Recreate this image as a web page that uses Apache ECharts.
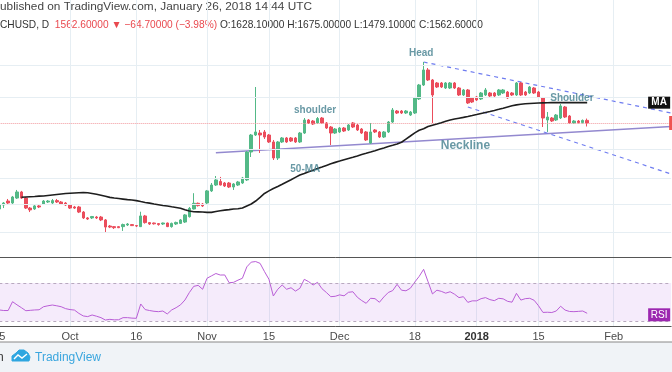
<!DOCTYPE html>
<html><head><meta charset="utf-8">
<script src="https://cdn.jsdelivr.net/npm/echarts@6/dist/echarts.min.js"></script>
<style>html,body{margin:0;padding:0;background:#fff;}#c{width:672px;height:372px;}</style>
</head><body><div id="c"></div>
<script>
// ---- data (BCHUSD daily) ----
const startDate = Date.UTC(2017, 8, 15);
const categoryCount = 153;
const opens = [
405,431,459,445,481,529,481,411,405,425,
438,452,445,462,452,445,431,418,418,386,
352,352,357,357,341,310,307,307,307,315,
317,312,307,363,327,325,322,320,325,307,
320,323,330,359,405,443,438,445,538,590,
624,609,609,572,590,609,639,991,1294,1335,
1357,1294,1160,902,1160,1235,1235,1235,1160,1335,
1638,1612,1563,1690,1563,1467,1335,1357,1444,1400,
1563,1514,1422,1357,1142,1400,1357,1254,1357,1587,
1886,1886,1828,1771,1828,2278,2838,3592,3070,2928,
2928,2707,2707,2928,2707,2426,2624,2314,2351,2278,
2426,2503,2503,2426,2503,2542,2503,2426,2928,2542,
2503,2707,2542,2314,1638,1690,1638,1690,2009,1744,
1563,1612,1575,1628.1];
const closes = [
431,445,445,489,529,481,411,399,425,418,
459,459,462,452,438,431,411,411,386,352,
346,360,352,341,305,305,302,302,317,320,
312,310,363,327,320,321,317,325,307,323,
328,341,369,409,443,427,425,538,590,639,
590,581,572,600,619,659,991,1294,1357,1294,
1254,1160,902,1160,1235,1160,1178,1160,1335,1638,
1563,1538,1677,1563,1444,1335,1422,1444,1378,1514,
1467,1400,1335,1197,1357,1357,1254,1357,1587,1916,
1828,1828,1886,1857,2314,2838,3592,3070,2426,2750,
2750,2928,2928,2707,2426,2624,2139,2173,2242,2503,
2624,2388,2388,2624,2624,2314,2426,2928,2426,2426,
2750,2503,2351,1690,1716,1612,1771,2041,1716,1563,
1612,1575,1627,1562.6];
const lows = [
380,411,431,431,474,474,405,386,399,411,
431,445,438,445,431,425,405,405,380,346,
341,346,346,335,278,300,296,300,287,310,
310,305,305,322,315,317,312,315,305,302,
315,320,325,354,402,421,418,438,529,581,
586,572,563,546,581,600,629,916,1274,976,
1216,1142,874,874,1142,1142,1160,1142,1142,1315,
1538,1514,1538,1538,1422,1106,1315,1335,1357,1378,
1444,1378,1315,1178,1124,1335,1235,1235,1335,1563,
1799,1799,1799,1744,1799,2242,2794,3022,1563,2707,
2707,2665,2665,2665,2388,2388,2106,2139,2208,2242,
2388,2351,2351,2388,2464,2278,2388,2388,2388,2388,
2464,2464,2314,1467,1357,1587,1612,1663,1690,1538,
1538,1550,1550,1479.1];
const highs = [
452,452,474,497,546,538,489,418,431,431,
466,466,474,474,459,452,438,425,425,392,
357,363,363,363,346,315,310,310,322,325,
320,315,388,369,330,327,325,327,327,327,
332,346,374,418,519,448,445,546,609,680,
670,619,619,609,629,670,1007,1315,2750,1400,
1400,1315,1197,1178,1254,1254,1254,1254,1357,1690,
1663,1638,1716,1716,1587,1490,1444,1467,1467,1538,
1587,1538,1444,1378,1563,1422,1378,1378,1612,1977,
1916,1916,1916,1886,2351,2883,4071,3705,3118,2974,
2974,2974,2974,2974,2750,2665,2665,2351,2388,2542,
2707,2542,2542,2665,2665,2583,2542,2974,2974,2583,
2794,2750,2583,2351,1857,1716,1799,2106,2041,1771,
1638,1638,1651,1675];
const ma50 = [
null,null,null,null,null,487,489,491,493,496,
497,501,505,509,513,517,519,521,523,524,
523,517,511,503,495,486,481,477,473,469,
466,462,455,449,444,438,433,428,424,419,
415,410,400,392,388,387,386,384,384,389,
394,398,401,405,407,411,425,438,459,486,
517,538,559,577,597,619,641,665,690,707,
726,745,764,783,803,823,842,859,877,895,
913,932,952,971,991,1012,1034,1055,1079,1101,
1124,1155,1213,1274,1339,1393,1428,1477,1509,1538,
1570,1605,1638,1663,1685,1706,1731,1757,1785,1814,
1843,1872,1904,1937,1972,2009,2047,2077,2096,2113,
2123,2133,2139,2143,2146,2150,2150,2150,2150,2150,
2150,2150,2150,2150];
const rsi = [
41.6,41,41,50.3,47,44,40.8,41.2,41.6,41.8,
45,46,46.8,46,45,43,42,41.5,38,35.3,
34.6,36.3,35,33.5,31,31.7,31.2,31.3,33.5,33.5,
33,32.8,47.9,42,41,40.2,39.8,40.5,37.4,41.6,
44,47,52.1,60,66.5,67.5,63.4,75,77.5,80,
78.4,78.5,70.3,70.7,73,75,87,92,92.6,90.7,
82,74,56.3,63.4,67.9,63.4,65,61.5,64.4,73.9,
71.4,67.9,70.7,64,60,55.6,56,57.5,56.5,60.2,
60.8,55,51.5,48.6,53.9,53.5,49.7,55.3,60,62,
68.6,62.4,61.8,64.5,71,77,84.4,71.4,58.5,62.4,
61.2,59.3,60.8,58.2,54.6,55.6,49.6,51.2,51.2,53.5,
54.6,52.5,51.4,53.9,53.3,50.7,49.8,59.1,52,53.5,
53.9,51.8,46,39,39.2,38.9,40.5,45.5,41.5,40,
39.8,40.1,40.5,38.1];
const tickDates = ['2017-09-15','2017-10-01','2017-10-16','2017-11-01','2017-11-15','2017-12-01','2017-12-18','2018-01-01','2018-01-15','2018-02-01'];
const tickLabels = ['15','Oct','16','Nov','15','Dec','18','2018','15','Feb'];
const priceGridLevels = [3886, 2351, 1039, 659, 438, 282];
const lastPrice = 1562.6;
const lastMA = 2150;
const lastRSI = 36.5;
const neckline = [['2017-11-03', 981], ['2018-02-14', 1478]];
const upperChannel = [['2017-12-20', 4071], ['2018-02-14', 1828]];
const lowerChannel = [['2017-12-30', 2009], ['2018-02-14', 702]];
const annotations = [
  ['2017-12-19', 4686, 'Head'],
  ['2017-11-25', 1916, 'shoulder'],
  ['2018-01-23', 2296, 'Shoulder'],
  ['2017-12-29', 1097, 'Neckline'],
  ['2017-11-23', 753, '50-MA']
];

// ---- build ----
const categories = [];
for (let i = 0; i < categoryCount; i++) {
  categories.push(new Date(startDate + i * 86400000).toISOString().slice(0, 10));
}
const lastCat = categories[categories.length - 1];
const candleData = opens.map((o, i) => [o, closes[i], lows[i], highs[i]]);
const tickSet = new Set(tickDates);
const tickFn = (idx, val) => tickSet.has(val);

const UP = '#53b987', DOWN = '#eb4d5c';
const ANN = '#44808f';
const annStyle = {
  'Head': {fontSize: 10, offset: [2, 0]},
  'shoulder': {fontSize: 10, offset: [2, 0]},
  'Shoulder': {fontSize: 10, offset: [-2, 0]},
  'Neckline': {fontSize: 12, offset: [2, 0]},
  '50-MA': {fontSize: 10, offset: [1, 0]}
};

function textWidth(str, font) {
  const c = document.createElement('canvas').getContext('2d');
  c.font = font; return c.measureText(str).width;
}
const hFont = '10.5px "Liberation Sans"';
const line1 = 'ublished on TradingView.com, January 26, 2018 14:44 UTC';
const l2a = 'CHUSD, D  ', l2b = '1562.60000 \u25BC \u221264.70000 (\u22123.98%)', l2c = ' O:1628.10000 H:1675.00000 L:1479.10000 C:1562.60000';
const w1 = textWidth(line1, hFont);
const w2 = textWidth(l2a + l2b + l2c, hFont);

const chart = echarts.init(document.getElementById('c'), null, {renderer: 'canvas'});
const xBase = {
  type: 'category', data: categories, boundaryGap: false,
  axisTick: {show: false}
};
chart.setOption({
  animation: false,
  backgroundColor: '#ffffff',
  grid: [
    {left: -0.7, right: 0.86, top: 0, height: 257, outerBoundsMode: 'none', containLabel: false},
    {left: -0.7, right: 0.86, top: 257, height: 69, outerBoundsMode: 'none', containLabel: false}
  ],
  xAxis: [
    Object.assign({}, xBase, {gridIndex: 0,
      axisLine: {show: true, lineStyle: {color: '#555', width: 1}},
      axisLabel: {show: false},
      splitLine: {show: true, interval: tickFn, lineStyle: {color: '#e6eef3', width: 1}}}),
    Object.assign({}, xBase, {gridIndex: 1,
      axisLine: {show: true, lineStyle: {color: '#555', width: 1}},
      axisLabel: {show: true, interval: tickFn,
        margin: 5, color: '#4a4a4a', fontSize: 11, fontFamily: 'Liberation Sans',
        formatter: v => { const k = tickDates.indexOf(v); if (k < 0) return ''; const t = tickLabels[k]; return t === '2018' ? '{b|2018}' : t; },
        rich: {b: {fontWeight: 'bold', fontSize: 11, color: '#333', fontFamily: 'Liberation Sans'}}},
      splitLine: {show: true, interval: tickFn, lineStyle: {color: '#e6eef3', width: 1}}})
  ],
  yAxis: [
    {type: 'log', gridIndex: 0, min: 190.6, max: 10777, axisLine: {show: false}, axisLabel: {show: false}, axisTick: {show: false}, splitLine: {show: false}},
    {type: 'value', gridIndex: 1, min: 24.7, max: 97.4, axisLine: {show: false}, axisLabel: {show: false}, axisTick: {show: false}, splitLine: {show: false}}
  ],
  series: [
    {
      type: 'line', xAxisIndex: 0, yAxisIndex: 0, data: [], silent: true,
      markLine: {silent: true, symbol: 'none', label: {show: false},
        lineStyle: {color: '#e6eef3', width: 1, type: 'solid'},
        data: priceGridLevels.map(v => ({yAxis: v}))}
    },
    {type: 'line', name: 'neck', data: neckline, showSymbol: false, silent: true,
      lineStyle: {color: '#9389cf', width: 1.5}, z: 3},
    {type: 'line', name: 'up', data: upperChannel, showSymbol: false, silent: true,
      lineStyle: {color: '#6e7cf0', width: 1.2, type: [4, 4]}, z: 3},
    {type: 'line', name: 'lo', data: lowerChannel, showSymbol: false, silent: true,
      lineStyle: {color: '#6e7cf0', width: 1.2, type: [4, 4]}, z: 3},
    {
      type: 'candlestick', xAxisIndex: 0, yAxisIndex: 0, data: candleData, barWidth: 3,
      itemStyle: {color: UP, color0: DOWN, borderColor: UP, borderColor0: DOWN, borderWidth: 1},
      z: 4,
      markLine: {silent: true, symbol: 'none', label: {show: false},
        lineStyle: {color: '#f29a9f', width: 1, type: [1, 1]},
        data: [{yAxis: lastPrice}]},
      markPoint: {silent: true, data: [{coord: [lastCat, lastPrice], symbol: 'rect', symbolSize: [4, 14], itemStyle: {color: '#ef5350'}, label: {show: false}}]}
    },
    {
      type: 'line', name: 'MA', data: ma50, showSymbol: false, silent: true, z: 5,
      lineStyle: {color: '#1e1e1e', width: 1.6},
      markPoint: {silent: true, data: [{coord: [lastCat, lastMA], symbol: 'rect', symbolSize: [22, 12], symbolOffset: [-12, 0],
        itemStyle: {color: '#111'}, label: {show: true, position: 'inside', formatter: 'MA', color: '#fff', fontSize: 10, fontWeight: 'bold', fontFamily: 'Liberation Sans'}}]}
    },
    {
      type: 'scatter', data: annotations.map(a => ({name: a[2], value: [a[0], a[1]],
        label: {fontSize: annStyle[a[2]].fontSize, offset: annStyle[a[2]].offset}})),
      symbolSize: 0.1, itemStyle: {color: 'rgba(0,0,0,0)'}, silent: true, z: 6,
      label: {show: true, position: 'inside', formatter: '{b}', color: ANN, fontWeight: 'bold', fontFamily: 'Liberation Sans'}
    },
    {
      type: 'line', xAxisIndex: 1, yAxisIndex: 1, data: rsi, showSymbol: false, silent: true,
      lineStyle: {color: '#b95ed6', width: 1}, z: 4,
      markArea: {silent: true, itemStyle: {color: 'rgba(170, 90, 225, 0.12)'}, data: [[{yAxis: 30}, {yAxis: 70}]]},
      markLine: {silent: true, symbol: 'none', label: {show: false}, lineStyle: {color: '#b8a9bf', width: 1, type: [3, 3]},
        data: [{yAxis: 30}, {yAxis: 70}]},
      markPoint: {silent: true, data: [{coord: [lastCat, lastRSI], symbol: 'rect', symbolSize: [22, 13], symbolOffset: [-12, 0],
        itemStyle: {color: '#9c27b0'}, label: {show: true, position: 'inside', formatter: 'RSI', color: '#fff', fontSize: 10, fontFamily: 'Liberation Sans'}}]}
    }
  ],
  graphic: [
    {type: 'text', x: 0, y: 7, scaleX: 312 / w1, originX: 0, silent: true,
      style: {text: line1, font: hFont, fill: '#444', verticalAlign: 'middle'}},
    {type: 'text', x: 0, y: 25, scaleX: 483 / w2, originX: 0, silent: true,
      style: {text: '{a|' + l2a + '}{b|' + l2b + '}{c|' + l2c + '}', font: hFont, verticalAlign: 'middle',
        rich: {a: {fill: '#333', font: hFont}, b: {fill: '#e9494f', font: hFont}, c: {fill: '#333', font: hFont}}}},
    {type: 'rect', shape: {x: 0, y: 342, width: 672, height: 30}, style: {fill: '#f0f3f7'}, silent: true},
    {type: 'line', shape: {x1: 0, y1: 342, x2: 672, y2: 342}, style: {stroke: '#888', lineWidth: 1}, silent: true},
    {type: 'text', x: -3, y: 358, silent: true, style: {text: 'n', font: '12px "Liberation Sans"', fill: '#333', verticalAlign: 'middle'}},
    {type: 'polyline', silent: true, shape: {points: [[12, 361], [12, 356], [16, 353], [19, 350], [24, 350], [28, 353], [30, 357], [29, 361], [12, 361]]},
      style: {fill: '#2fa6e0', stroke: '#2fa6e0', lineWidth: 1}},
    {type: 'polyline', silent: true, shape: {points: [[14, 359], [18, 355], [22, 358], [27, 354]]},
      style: {fill: 'none', stroke: '#ffffff', lineWidth: 1.4}},
    {type: 'text', x: 35, y: 358, silent: true, style: {text: 'TradingView', font: '12px "Liberation Sans"', fill: '#3aa6de', verticalAlign: 'middle'}}
  ]
});
</script>
</body></html>
